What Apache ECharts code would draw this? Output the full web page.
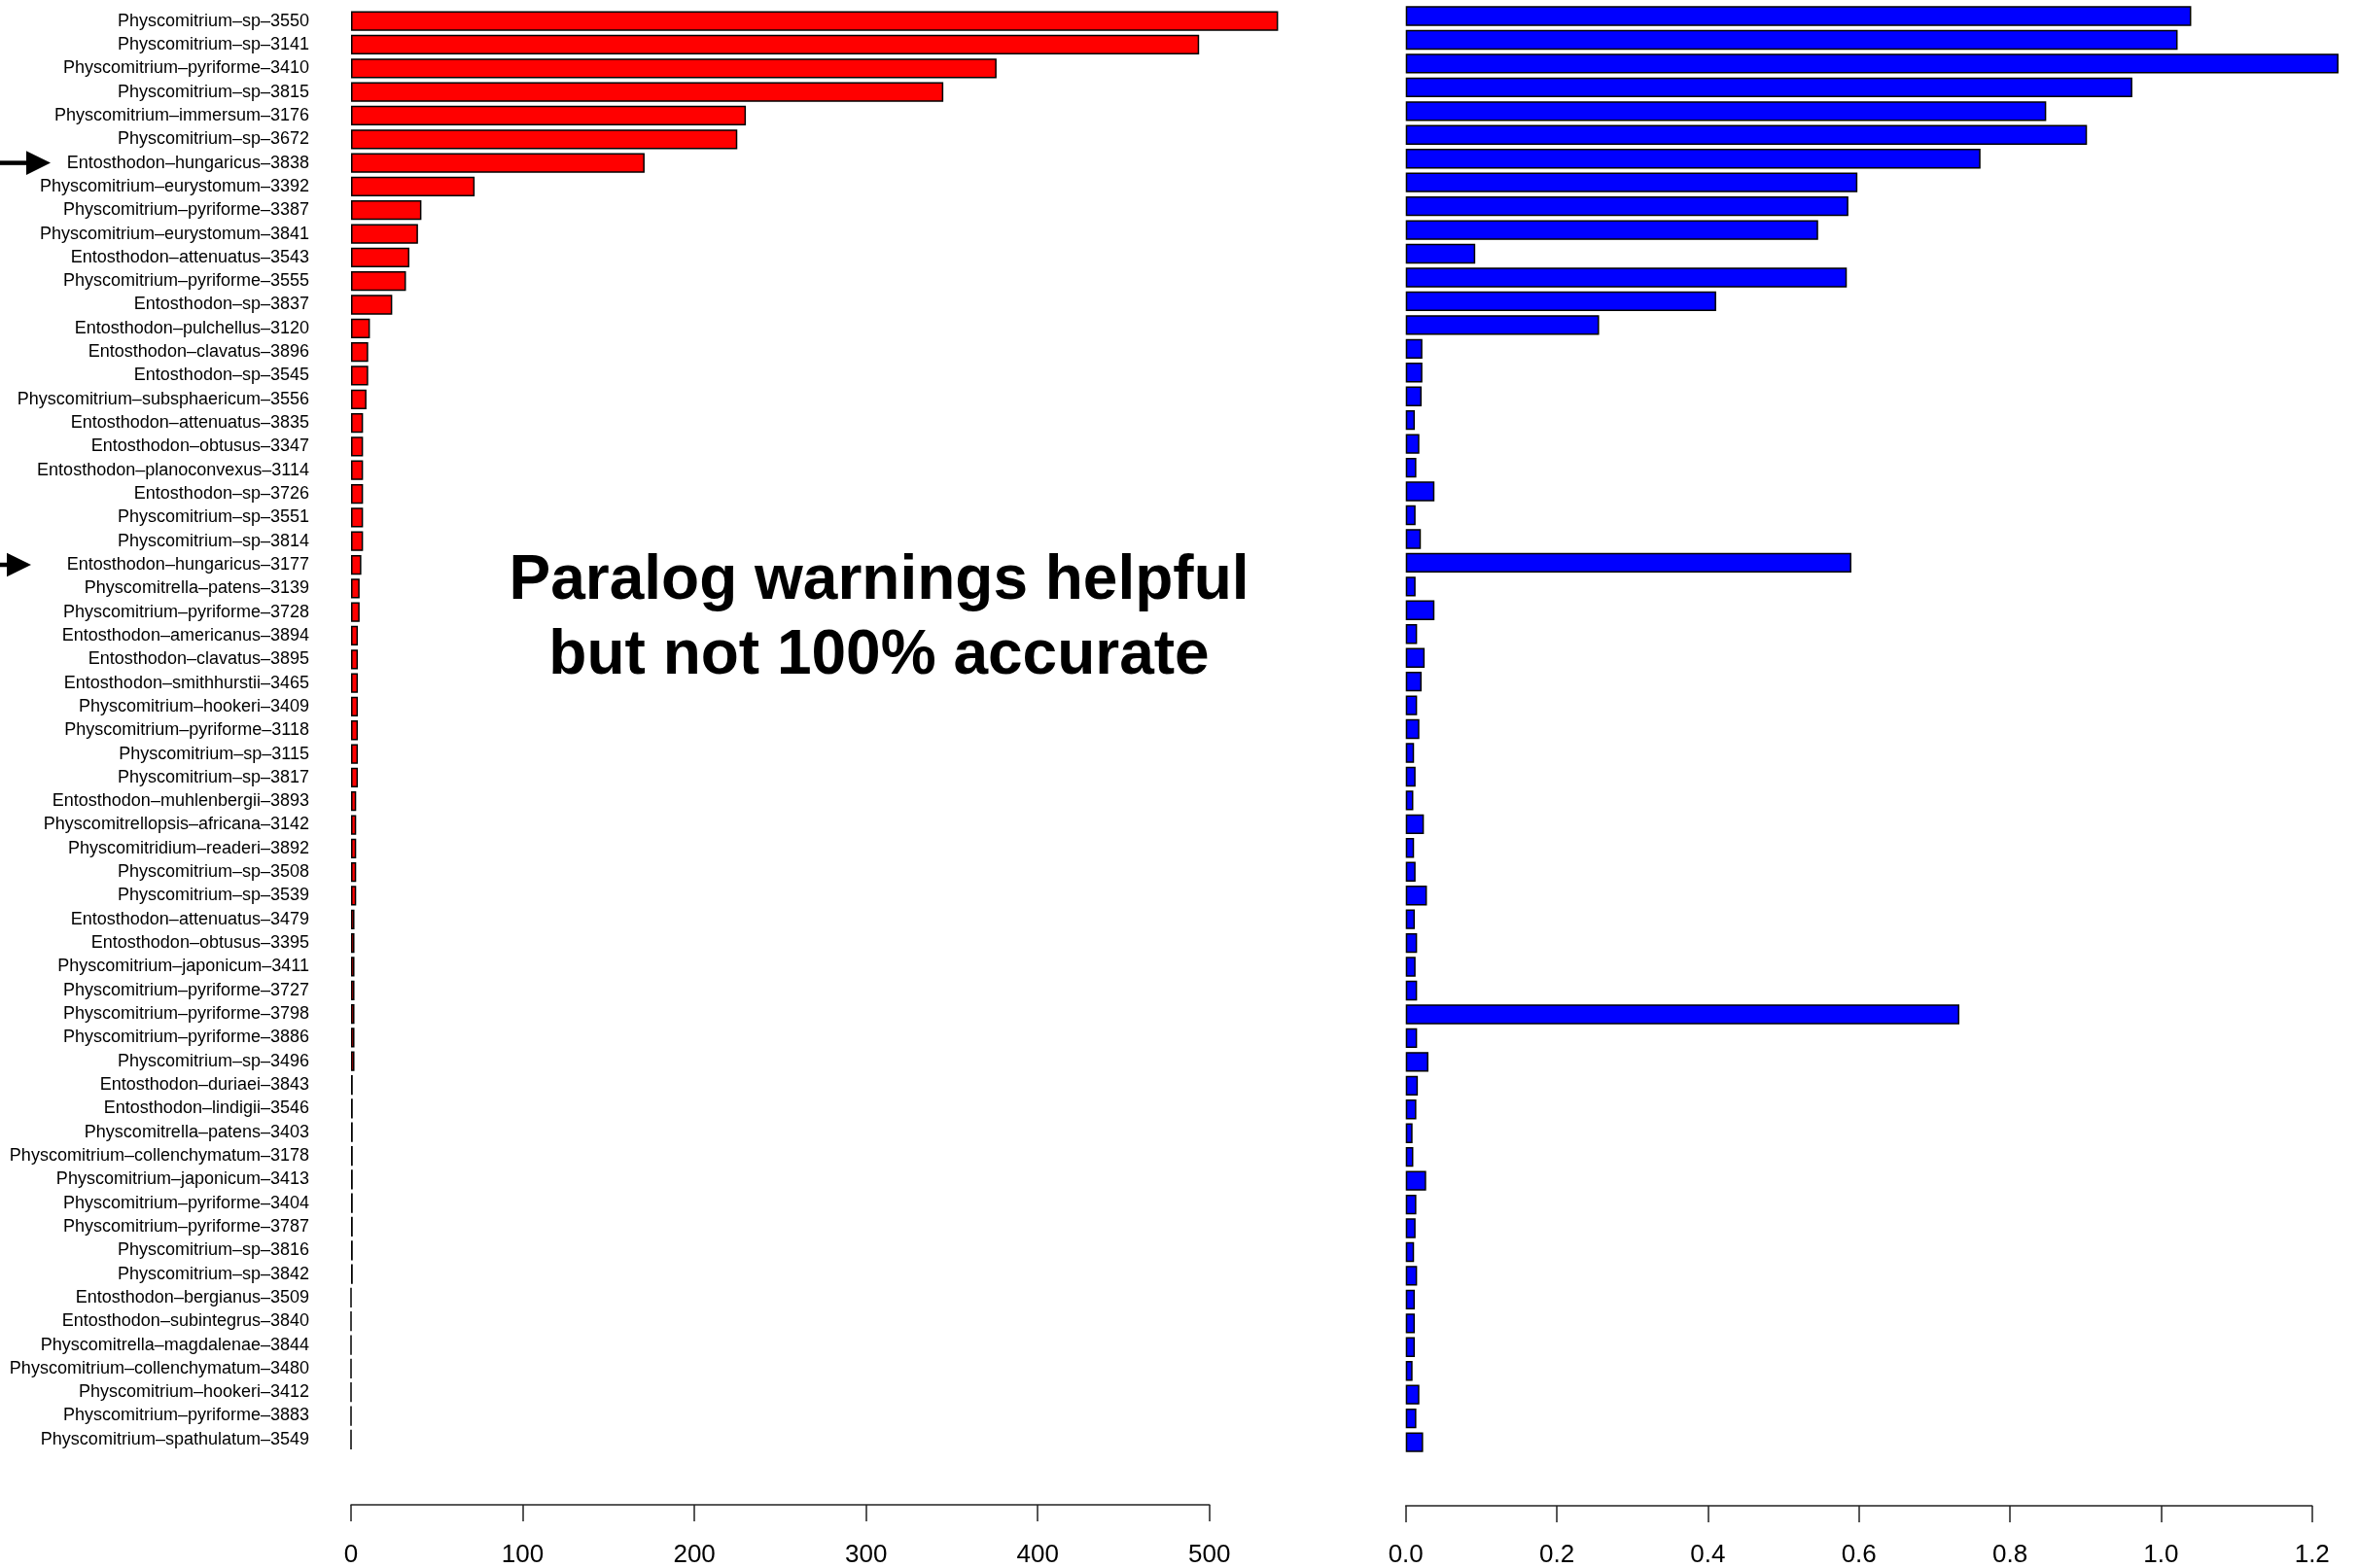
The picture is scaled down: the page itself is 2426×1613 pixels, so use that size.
<!DOCTYPE html>
<html>
<head>
<meta charset="utf-8">
<script src="https://cdn.jsdelivr.net/npm/echarts@6/dist/echarts.min.js"></script>
<style>
html,body{margin:0;padding:0;background:#fff;}
#chart{width:2426px;height:1613px;}
</style>
</head>
<body>
<div id="chart"></div>
<script>
// ---------- DATA ----------
const categories = [
  'Physcomitrium–sp–3550','Physcomitrium–sp–3141','Physcomitrium–pyriforme–3410','Physcomitrium–sp–3815',
  'Physcomitrium–immersum–3176','Physcomitrium–sp–3672','Entosthodon–hungaricus–3838','Physcomitrium–eurystomum–3392',
  'Physcomitrium–pyriforme–3387','Physcomitrium–eurystomum–3841','Entosthodon–attenuatus–3543','Physcomitrium–pyriforme–3555',
  'Entosthodon–sp–3837','Entosthodon–pulchellus–3120','Entosthodon–clavatus–3896','Entosthodon–sp–3545',
  'Physcomitrium–subsphaericum–3556','Entosthodon–attenuatus–3835','Entosthodon–obtusus–3347','Entosthodon–planoconvexus–3114',
  'Entosthodon–sp–3726','Physcomitrium–sp–3551','Physcomitrium–sp–3814','Entosthodon–hungaricus–3177',
  'Physcomitrella–patens–3139','Physcomitrium–pyriforme–3728','Entosthodon–americanus–3894','Entosthodon–clavatus–3895',
  'Entosthodon–smithhurstii–3465','Physcomitrium–hookeri–3409','Physcomitrium–pyriforme–3118','Physcomitrium–sp–3115',
  'Physcomitrium–sp–3817','Entosthodon–muhlenbergii–3893','Physcomitrellopsis–africana–3142','Physcomitridium–readeri–3892',
  'Physcomitrium–sp–3508','Physcomitrium–sp–3539','Entosthodon–attenuatus–3479','Entosthodon–obtusus–3395',
  'Physcomitrium–japonicum–3411','Physcomitrium–pyriforme–3727','Physcomitrium–pyriforme–3798','Physcomitrium–pyriforme–3886',
  'Physcomitrium–sp–3496','Entosthodon–duriaei–3843','Entosthodon–lindigii–3546','Physcomitrella–patens–3403',
  'Physcomitrium–collenchymatum–3178','Physcomitrium–japonicum–3413','Physcomitrium–pyriforme–3404','Physcomitrium–pyriforme–3787',
  'Physcomitrium–sp–3816','Physcomitrium–sp–3842','Entosthodon–bergianus–3509','Entosthodon–subintegrus–3840',
  'Physcomitrella–magdalenae–3844','Physcomitrium–collenchymatum–3480','Physcomitrium–hookeri–3412','Physcomitrium–pyriforme–3883',
  'Physcomitrium–spathulatum–3549'
];
const redValues = [
  540,494,376,345,230,225,171,72,41,39,34,32,24,11,10,10,9,7,7,7,7,7,7,6,5,5,
  4,4,4,4,4,4,4,3,3,3,3,3,2,2,2,2,2,2,2,1,1,1,1,1,1,1,1,1,0,0,0,0,0,0,0
];
const blueValues = [
  1.040,1.022,1.235,0.962,0.848,0.902,0.761,0.598,0.586,0.546,0.092,0.584,0.411,0.256,
  0.022,0.022,0.021,0.012,0.018,0.014,0.038,0.013,0.020,0.590,0.013,0.038,0.015,0.025,
  0.021,0.015,0.018,0.011,0.013,0.010,0.024,0.011,0.013,0.028,0.012,0.015,0.013,0.015,
  0.733,0.015,0.030,0.016,0.014,0.009,0.010,0.027,0.014,0.013,0.011,0.015,0.012,0.012,
  0.012,0.009,0.018,0.014,0.023
];
const leftTicks = [0,100,200,300,400,500];
const rightTicks = [0.0,0.2,0.4,0.6,0.8,1.0,1.2];
const arrowRows = ['Entosthodon–hungaricus–3838','Entosthodon–hungaricus–3177'];
const annotationLines = ['Paralog warnings helpful','but not 100% accurate'];

// ---------- STYLE / LAYOUT ----------
const FONT = '"Liberation Sans", Arial, Helvetica, sans-serif';
const arrowStyle = [{tip:52, tail:0}, {tip:32, tail:0}];
const PX_LEFT = 1.7656;   // px per unit, left panel
const PX_RIGHT = 776.7;   // px per unit, right panel

const chart = echarts.init(document.getElementById('chart'), null, {renderer:'canvas'});

const barItem = (color) => ({color: color, borderColor:'#000', borderWidth:1.5});
const axisFmt1 = v => v.toFixed(1);

const option = {
  backgroundColor:'#fff',
  animation:false,
  grid:[
    {left:361, top:9.5, width:550*PX_LEFT, height:1483.5},
    {left:361, top:1540, width:500*PX_LEFT, height:10},
    {left:1445.7, top:4.3, width:1.25*PX_RIGHT, height:1491.5},
    {left:1445.7, top:1544, width:1.2*PX_RIGHT, height:10}
  ],
  xAxis:[
    {gridIndex:0, type:'value', min:0, max:550, show:false},
    {gridIndex:1, type:'value', min:leftTicks[0], max:leftTicks[leftTicks.length-1], interval:100,
      position:'bottom',
      axisLine:{show:true, lineStyle:{color:'#222', width:1.5}},
      axisTick:{show:true, inside:false, length:17, lineStyle:{color:'#222', width:1.5}},
      axisLabel:{show:true, margin:39, fontSize:26, color:'#000', fontFamily:FONT},
      splitLine:{show:false}},
    {gridIndex:2, type:'value', min:0, max:1.25, show:false},
    {gridIndex:3, type:'value', min:rightTicks[0], max:rightTicks[rightTicks.length-1], interval:0.2,
      position:'bottom',
      axisLine:{show:true, lineStyle:{color:'#222', width:1.5}},
      axisTick:{show:true, inside:false, length:17, lineStyle:{color:'#222', width:1.5}},
      axisLabel:{show:true, margin:38, fontSize:26, color:'#000', fontFamily:FONT, formatter:axisFmt1},
      splitLine:{show:false}}
  ],
  yAxis:[
    {gridIndex:0, type:'category', data:categories, inverse:true,
      axisLine:{show:false}, axisTick:{show:false},
      axisLabel:{show:true, margin:43, fontSize:18, color:'#000', fontFamily:FONT, interval:0}},
    {gridIndex:1, type:'value', show:false},
    {gridIndex:2, type:'category', data:categories, inverse:true, show:false},
    {gridIndex:3, type:'value', show:false}
  ],
  series:[
    {type:'bar', xAxisIndex:0, yAxisIndex:0, data:redValues, barCategoryGap:'16.7%',
      itemStyle:barItem('#ff0000'), silent:true},
    {type:'bar', xAxisIndex:2, yAxisIndex:2, data:blueValues, barCategoryGap:'16.7%',
      itemStyle:barItem('#0000ff'), silent:true},
    {type:'custom', xAxisIndex:0, yAxisIndex:0, silent:true, clip:false,
      data: arrowRows.map(c => [0, c]),
      renderItem:(params, api) => {
        const y = api.coord([0, api.value(1)])[1];
        const st = arrowStyle[params.dataIndex];
        const headLen = 25, half = 12.3;
        return {type:'group', children:[
          {type:'line', shape:{x1:st.tail, y1:y, x2:st.tip-headLen+2, y2:y},
            style:{stroke:'#000', lineWidth:4.5}},
          {type:'polygon', shape:{points:[[st.tip,y],[st.tip-headLen,y-half],[st.tip-headLen,y+half]]},
            style:{fill:'#000'}}
        ]};
      }}
  ],
  graphic:[
    {type:'text', id:'ann', x:904, y:637, silent:true,
      style:{text:annotationLines.join('\n'), font:'bold 64px '+FONT, fill:'#000',
        align:'center', verticalAlign:'middle', lineHeight:77}}
  ]
};
chart.setOption(option);
</script>
</body>
</html>
